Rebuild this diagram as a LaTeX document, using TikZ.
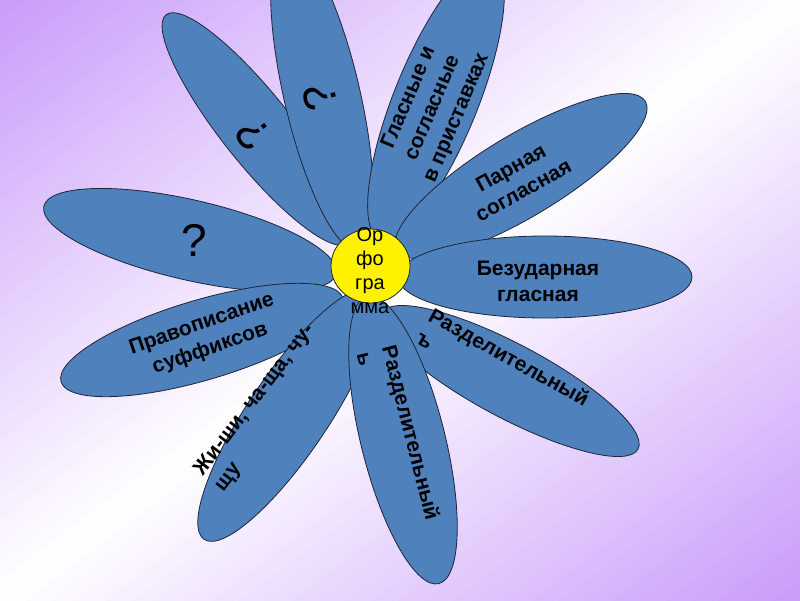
\documentclass[tikz,border=0pt]{standalone}
\usepackage{fontspec}
\setmainfont{Liberation Sans}
\definecolor{petalblue}{RGB}{79,129,189}
\definecolor{petaledge}{RGB}{28,38,56}
\definecolor{bgviolet}{RGB}{200,155,250}
\tikzset{
  petal/.style={fill=petalblue,draw=petaledge,line width=0.8pt},
  petaltext/.style={font=\fontsize{21}{26}\selectfont\bfseries,align=center,inner sep=0pt},
  asktext/.style={font=\fontsize{46}{50}\selectfont,inner sep=0pt},
  coretext/.style={font=\fontsize{20}{24}\selectfont,align=center,inner sep=0pt}
}
\begin{document}
\begin{tikzpicture}[x=1pt,y=-1pt]
  \useasboundingbox (0,0) rectangle (800,600);
  \clip (0,0) rectangle (800,600);
  % background
  \foreach \k in {0,...,59}{
    \pgfmathsetmacro{\ua}{16*\k}
    \pgfmathsetmacro{\ub}{16*\k+17}
    \pgfmathtruncatemacro{\mix}{abs(16*\k+8-480)/4.8}
    \fill[bgviolet!\mix!white] ({0.6*\ua-800},{0.8*\ua+600}) -- ({0.6*\ua+800},{0.8*\ua-600})
      -- ({0.6*\ub+800},{0.8*\ub-600}) -- ({0.6*\ub-800},{0.8*\ub+600}) -- cycle;
  }
  % petals
  \draw[petal,rotate around={167:(190,240)}] (190,240) ellipse [x radius=150pt,y radius=40pt];
  \node[asktext] (ask1) at (194,240) {?};
  \draw[petal,rotate around={128.5:(257,129)}] (257,129) ellipse [x radius=146pt,y radius=35pt];
  \node[asktext,rotate=128.5] (ask2) at (253,134) {?};
  \draw[petal,rotate around={103:(322,95)}] (322,95) ellipse [x radius=158pt,y radius=38pt];
  \node[asktext,rotate=103] (ask3) at (320,98) {?};
  \draw[petal,rotate around={68:(436,100)}] (436,100) ellipse [x radius=150pt,y radius=42pt];
  \node[petaltext,rotate=67] (glas) at (433,108) {Гласные и\\согласные\\в приставках};
  \draw[petal,rotate around={31:(521,176)}] (521,176) ellipse [x radius=145pt,y radius=41pt];
  \node[petaltext,rotate=29] (parn) at (517,179) {Парная\\согласная};
  \draw[petal] (545,277) ellipse [x radius=147pt,y radius=41pt];
  \node[petaltext] (bezud) at (538,281) {Безударная\\гласная};
  \draw[petal,rotate around={-28:(510,381)}] (510,381) ellipse [x radius=145pt,y radius=37pt];
  \node[petaltext,align=left,rotate=-29] (tverd) at (503,368) {Разделительный\\ъ};
  \draw[petal,rotate around={196.5:(202,340)}] (202,340) ellipse [x radius=147pt,y radius=40pt];
  \node[petaltext,rotate=19] (prav) at (206,337) {Правописание\\суффиксов};
  \draw[petal,rotate around={236:(288,415)}] (288,415) ellipse [x radius=150pt,y radius=40pt];
  \node[petaltext,align=left,rotate=52.6] (zhi) at (265,408) {Жи-ши, ча-ща, чу-\\щу};
  \draw[petal,rotate around={-76:(403,440)}] (403,440) ellipse [x radius=148pt,y radius=42pt];
  \node[petaltext,align=left,rotate=-75.7] (myag) at (399,436) {Разделительный\\ь};
  % centre
  \draw[fill=yellow,draw=petaledge,line width=0.8pt] (370.5,266) ellipse [x radius=39.5pt,y radius=37pt];
  \node[coretext] (core) at (370,271) {Ор\\фо\\гра\\мма};
\end{tikzpicture}
\end{document}
